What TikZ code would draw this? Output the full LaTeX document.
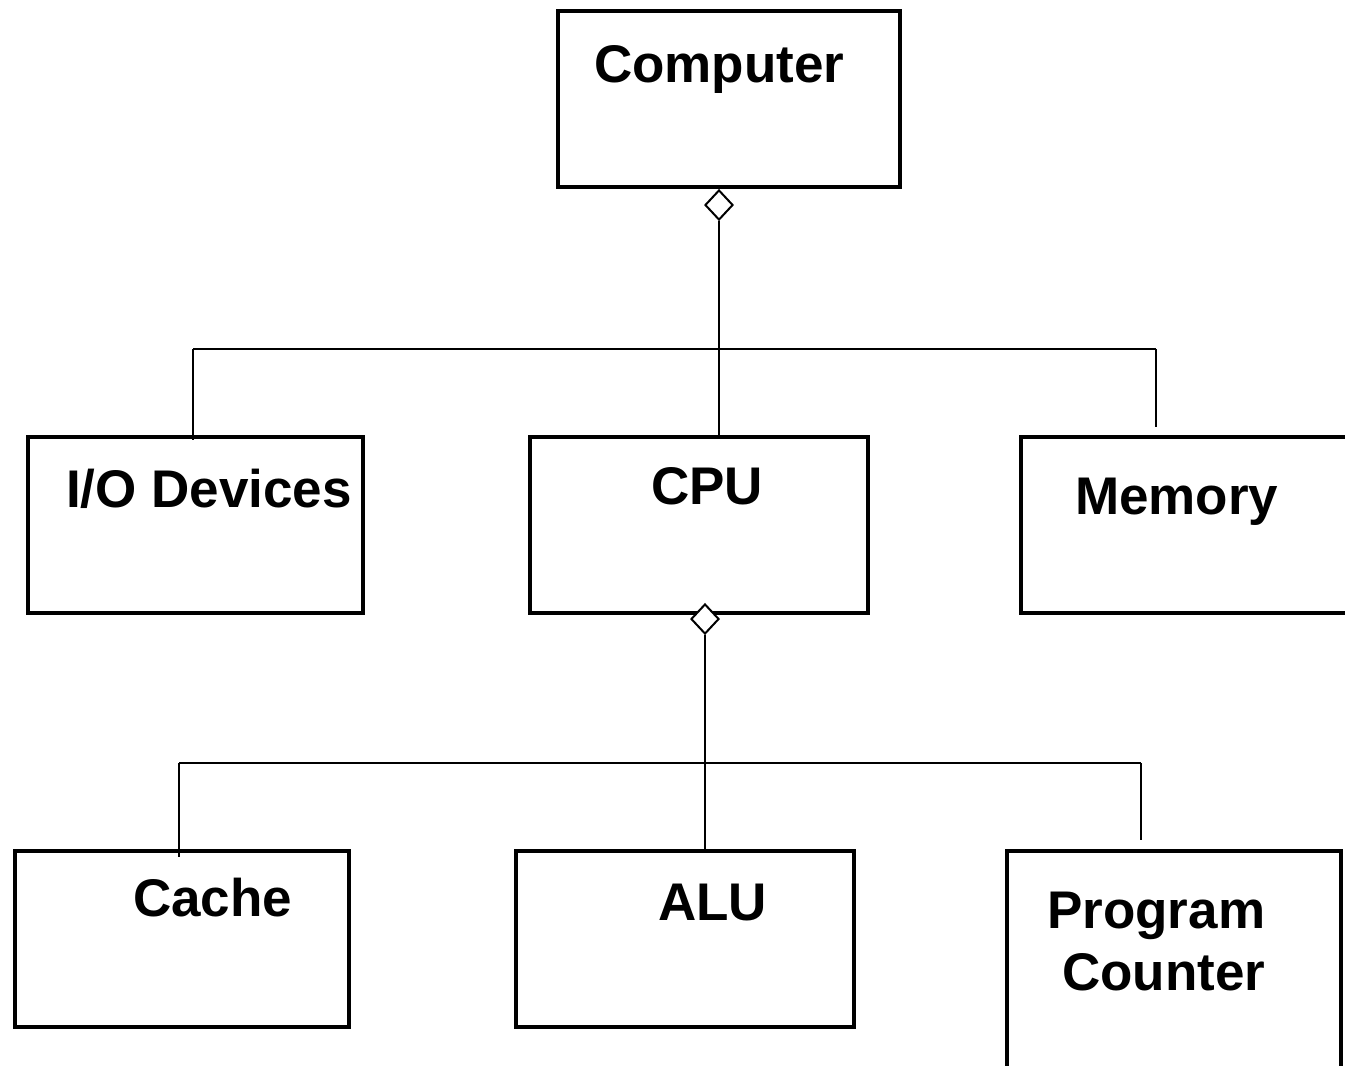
\documentclass[tikz,border=0pt]{standalone}
\usepackage{fontspec}
\setmainfont{Liberation Sans}
\usetikzlibrary{shapes.geometric}
\begin{document}
\begin{tikzpicture}[x=1pt,y=-1pt,
  box/.style={draw, rectangle, line width=4.5pt, inner sep=0pt},
  conn/.style={draw, line width=2pt},
  agg/.style={draw, diamond, line width=2pt, fill=white, inner sep=0pt, minimum width=28pt, minimum height=30pt},
  lbl/.style={anchor=base west, inner sep=0pt, font=\bfseries\fontsize{53}{60}\selectfont}]
\useasboundingbox (0,0) rectangle (1345,1066);
\clip (0,0) rectangle (1345,1066);
\fill[white] (0,0) rectangle (1345,1066);
% boxes
\node[box, minimum width=342pt, minimum height=176pt] (computer) at (729,99) {};
\node[box, minimum width=335pt, minimum height=176pt] (io) at (195.5,525) {};
\node[box, minimum width=338pt, minimum height=176pt] (cpu) at (699,525) {};
\node[box, minimum width=340pt, minimum height=176pt] (memory) at (1191,525) {};
\node[box, minimum width=334pt, minimum height=176pt] (cache) at (182,939) {};
\node[box, minimum width=338pt, minimum height=176pt] (alu) at (685,939) {};
\node[box, minimum width=334pt, minimum height=260pt] (pc) at (1174,981) {};
% labels
\node[lbl] (tcomputer) at (594,82) {Computer};
\node[lbl] (tio) at (66,507) {I/O Devices};
\node[lbl] (tcpu) at (651,504) {CPU};
\node[lbl] (tmemory) at (1075,514) {Memory};
\node[lbl] (tcache) at (133,916) {Cache};
\node[lbl] (talu) at (658,920) {ALU};
\node[lbl] (tprogram) at (1047,928) {Program};
\node[lbl] (tcounter) at (1062,990) {Counter};
% bus coordinates
\coordinate (b1L) at (193,349);
\coordinate (b1R) at (1156,349);
\coordinate (b1E) at (1156,427);
\coordinate (b1S) at (193,440);
\coordinate (b2L) at (179,763);
\coordinate (b2R) at (1141,763);
\coordinate (b2E) at (1141,840);
\coordinate (b2S) at (179,857);
% upper connectors
\node[agg] (d1) at (719,205) {};
\draw[conn] (d1.south) -- (d1.south |- cpu.north);
\draw[conn] (b1L) -- (b1R);
\draw[conn] (b1L) -- (b1S);
\draw[conn] (b1R) -- (b1E);
% lower connectors
\node[agg] (d2) at (705,619) {};
\draw[conn] (d2.south) -- (d2.south |- alu.north);
\draw[conn] (b2L) -- (b2R);
\draw[conn] (b2L) -- (b2S);
\draw[conn] (b2R) -- (b2E);
\end{tikzpicture}
\end{document}
